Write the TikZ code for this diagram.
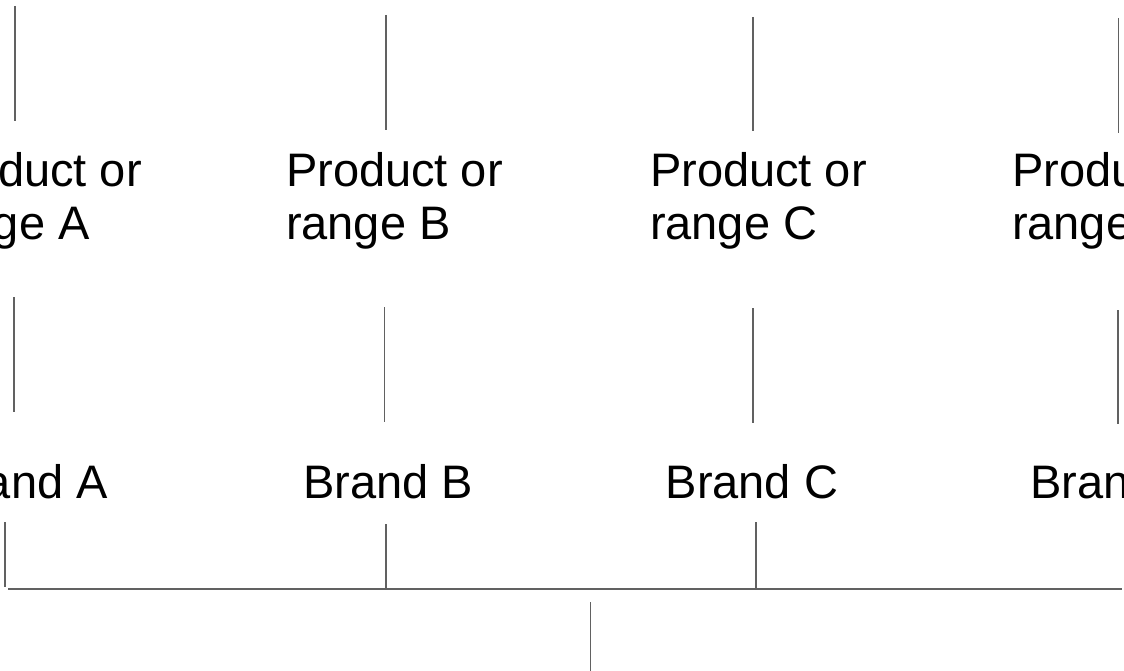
\documentclass[tikz,border=0pt]{standalone}
\usepackage{fontspec}
\setmainfont{Liberation Sans}
\begin{document}
\begin{tikzpicture}[x=1pt,y=-1pt,
  label/.style={inner sep=0pt,outer sep=0pt,anchor=base west,align=left,
    font=\fontsize{47}{54}\selectfont},
  link/.style={draw=black!62,line width=1.6pt}]
\useasboundingbox (0,0) rectangle (1124,671);

% product or range labels (anchored on the baseline of their last line)
\node[label] (pA) at (-75,240) {Product or\\range A};
\node[label] (pB) at (286,240) {Product or\\range B};
\node[label] (pC) at (650,240) {Product or\\range C};
\node[label] (pD) at (1012,240) {Product or\\range D};

% brand labels
\node[label] (bA) at (-62,498) {Brand A};
\node[label] (bB) at (303,498) {Brand B};
\node[label] (bC) at (665.7,498) {Brand C};
\node[label] (bD) at (1030,498) {Brand D};

% connector end points
\coordinate (tA1) at (15,6);     \coordinate (tA2) at (15,121);
\coordinate (tB1) at (386,15);   \coordinate (tB2) at (386,130);
\coordinate (tC1) at (753,17);   \coordinate (tC2) at (753,131);
\coordinate (tD1) at (1118.5,18);\coordinate (tD2) at (1118.5,133);

\coordinate (mA1) at (14,297);   \coordinate (mA2) at (14,412);
\coordinate (mB1) at (384.3,307);\coordinate (mB2) at (384.3,422);
\coordinate (mC1) at (753,308);  \coordinate (mC2) at (753,423);
\coordinate (mD1) at (1118,310); \coordinate (mD2) at (1118,424);

\coordinate (bA1) at (5,522);    \coordinate (bA2) at (5,587);
\coordinate (bB1) at (385.7,524);\coordinate (bB2) at (385.7,589);
\coordinate (bC1) at (755.7,522);\coordinate (bC2) at (755.7,589);

\coordinate (hL) at (8,589);     \coordinate (hR) at (1122,589);
\coordinate (root1) at (590.3,602); \coordinate (root2) at (590.3,675);

% upper links
\draw[link] (tA1) -- (tA2);
\draw[link] (tB1) -- (tB2);
\draw[link] (tC1) -- (tC2);
\draw[link] (tD1) -- (tD2);

% links between products and brands
\draw[link] (mA1) -- (mA2);
\draw[link] (mB1) -- (mB2);
\draw[link] (mC1) -- (mC2);
\draw[link] (mD1) -- (mD2);

% brand drops to the bar
\draw[link] (bA1) -- (bA2);
\draw[link] (bB1) -- (bB2);
\draw[link] (bC1) -- (bC2);

% bar and stem below
\draw[link] (hL) -- (hR);
\draw[link] (root1) -- (root2);
\end{tikzpicture}
\end{document}
